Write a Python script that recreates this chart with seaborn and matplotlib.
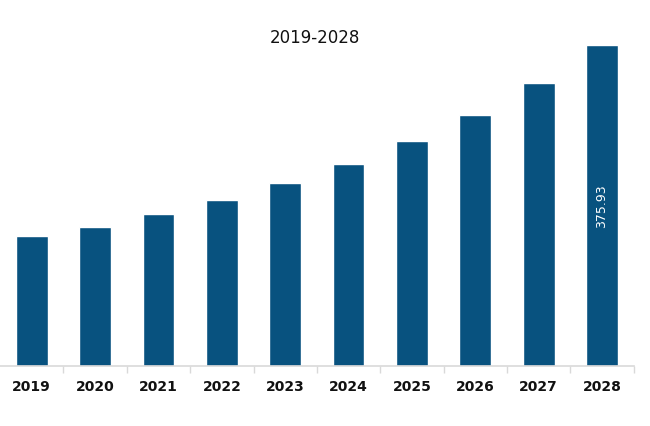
import numpy as np
import pandas as pd
import seaborn as sns
import matplotlib.pyplot as plt

# data
years = ["2019", "2020", "2021", "2022", "2023", "2024", "2025", "2026", "2027", "2028"]
values = [152.3, 162.8, 178.0, 194.4, 214.3, 236.6, 263.5, 294.0, 331.4, 375.93]
last_label = "375.93"

sns.set_theme(style="white")
plt.rcParams['font.family'] = ['DejaVu Sans']

df = pd.DataFrame({"year": years, "value": values})

fig = plt.figure(figsize=(6.5, 4.27), dpi=100)
ax = fig.add_axes([0.0, 0.1405, 0.975, 0.752])

sns.barplot(data=df, x="year", y="value", color="#08527f", saturation=1,
            width=0.5, ax=ax)

ax.set_xlim(-0.5, len(years) - 0.5)
ax.set_ylim(0, max(values))
ax.set_xlabel("")
ax.set_ylabel("")
ax.set_yticks([])

for s in ["top", "left", "right"]:
    ax.spines[s].set_visible(False)
ax.spines["bottom"].set_color("#d9d9d9")
ax.spines["bottom"].set_linewidth(1.2)

# tick marks sit between the categories
ax.set_xticks(np.arange(len(years)) + 0.5, minor=True)
ax.tick_params(axis="x", which="minor", bottom=True, length=5, color="#d9d9d9", width=1)
ax.tick_params(axis="x", which="major", length=0, pad=9)
for lbl in ax.get_xticklabels():
    lbl.set_fontsize(10)
    lbl.set_fontweight("bold")
    lbl.set_color("#111111")

# value label inside last bar
ax.text(len(years) - 1, values[-1] / 2, last_label, rotation=90, color="white",
        ha="center", va="center", fontsize=9)

fig.text(0.485, 0.911, "2019-2028", ha="center", va="center", fontsize=12,
         color="#111111")

fig.savefig("out.png", dpi=100)
